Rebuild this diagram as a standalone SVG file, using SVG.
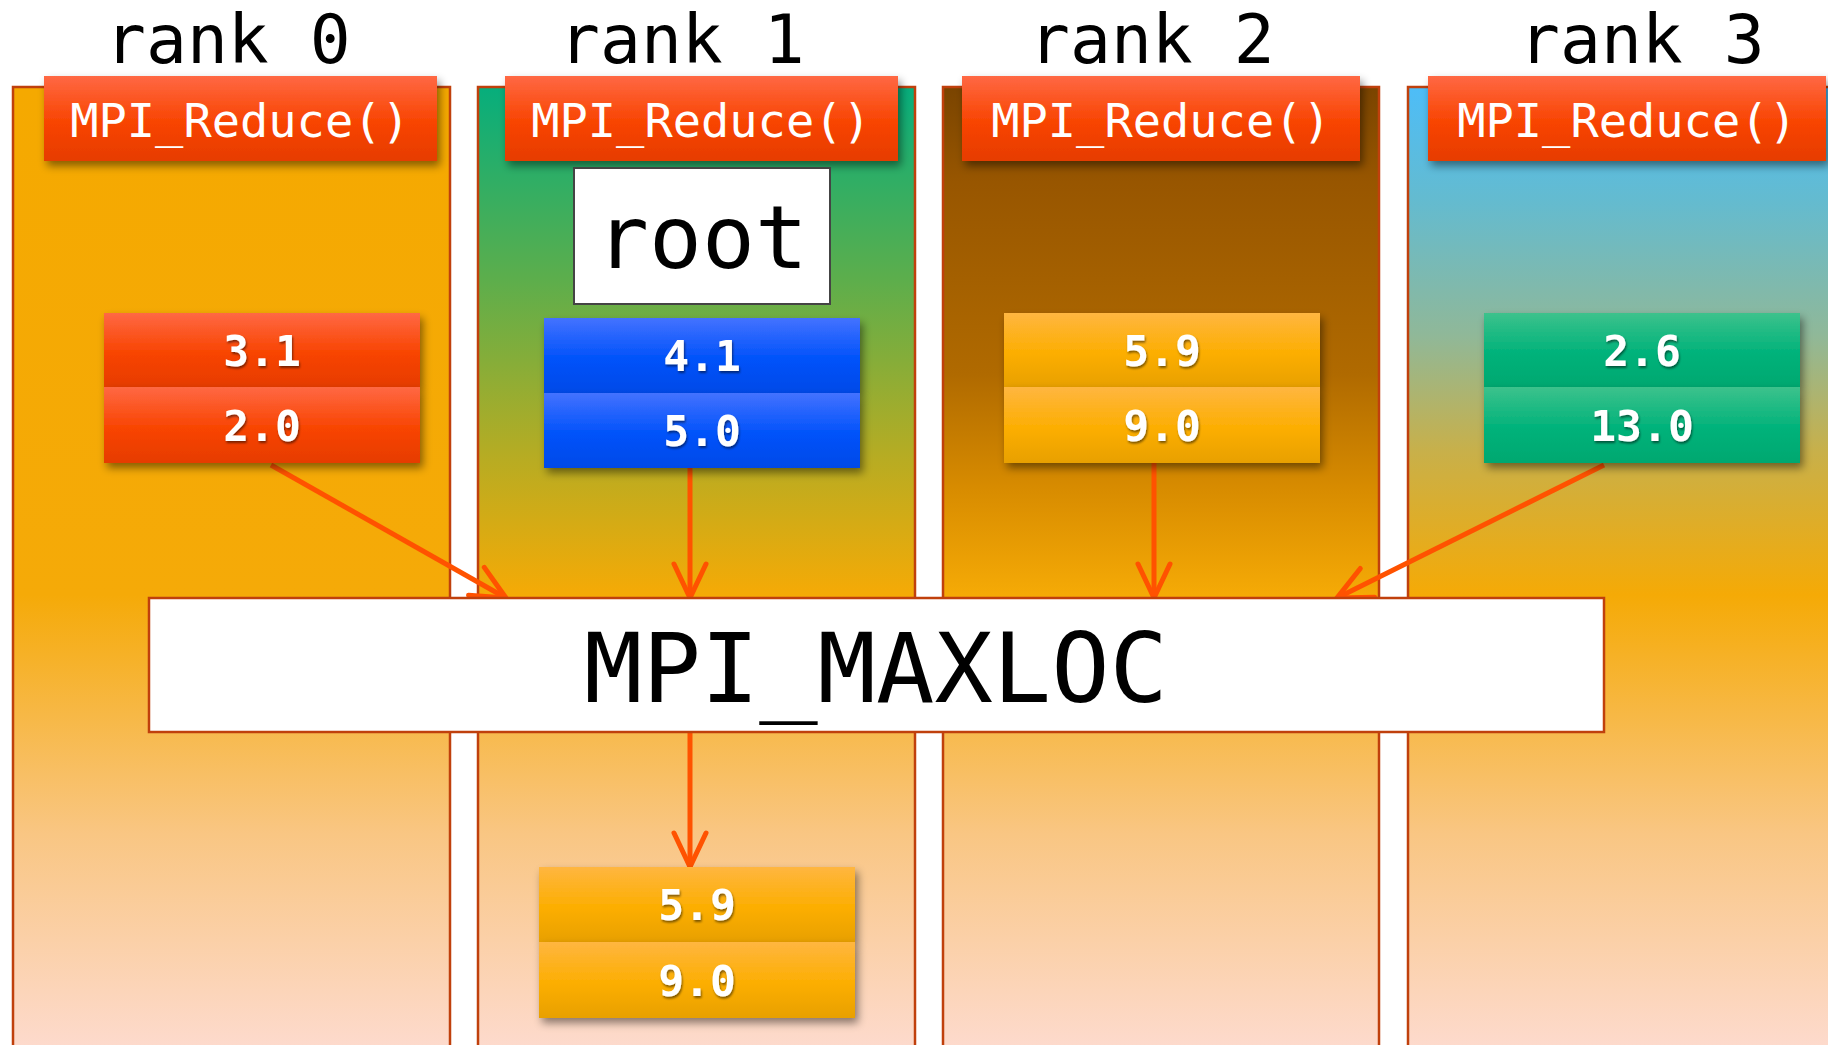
<svg xmlns="http://www.w3.org/2000/svg" width="1828" height="1045" viewBox="0 0 1828 1045">
<defs>
<style>
.lane{stroke:#C0400C;stroke-width:2.5}
.rank{font-family:"DejaVu Sans Mono","Liberation Mono",monospace;font-size:68px;fill:#000}
.hdr{filter:url(#sh)}
.hdrt{font-family:"DejaVu Sans Mono","Liberation Mono",monospace;font-size:47px;fill:#fff;text-anchor:middle}
.val{font-family:"DejaVu Sans Mono","Liberation Mono",monospace;font-size:43px;font-weight:bold;fill:#fff;text-anchor:middle;filter:url(#tsh)}
.cell{filter:url(#sh)}
.conn{stroke:#FF5200;stroke-width:5;fill:none;marker-end:url(#ah)}
</style>
<filter id="sh" x="-10%" y="-10%" width="130%" height="140%">
<feDropShadow dx="3" dy="5" stdDeviation="4" flood-color="#000" flood-opacity="0.45"/>
</filter>
<filter id="tsh" x="-20%" y="-20%" width="140%" height="150%">
<feDropShadow dx="1" dy="2" stdDeviation="1" flood-color="#000" flood-opacity="0.5"/>
</filter>
<marker id="ah" markerUnits="userSpaceOnUse" markerWidth="50" markerHeight="50" refX="40" refY="25" orient="auto" viewBox="0 0 50 50">
<path d="M6,9 L40,25 L6,41" fill="none" stroke="#FF5200" stroke-width="5" stroke-linecap="round" stroke-linejoin="miter"/>
</marker>
<linearGradient id="g0" gradientUnits="userSpaceOnUse" x1="0" y1="87" x2="0" y2="1045">
<stop offset="0" stop-color="#F5A900"/><stop offset="0.53" stop-color="#F5AA08"/><stop offset="0.78" stop-color="#F9C683"/><stop offset="1" stop-color="#FDDACC"/>
</linearGradient>
<linearGradient id="g1" gradientUnits="userSpaceOnUse" x1="0" y1="87" x2="0" y2="1045">
<stop offset="0" stop-color="#06AE7C"/><stop offset="0.2" stop-color="#5CAE4C"/><stop offset="0.38" stop-color="#B4AC24"/><stop offset="0.53" stop-color="#F5AA06"/><stop offset="0.78" stop-color="#F9C683"/><stop offset="1" stop-color="#FDDACC"/>
</linearGradient>
<linearGradient id="g2" gradientUnits="userSpaceOnUse" x1="0" y1="87" x2="0" y2="1045">
<stop offset="0" stop-color="#7A4400"/><stop offset="0.1" stop-color="#985600"/><stop offset="0.3" stop-color="#B06A00"/><stop offset="0.42" stop-color="#D88C00"/><stop offset="0.53" stop-color="#F5AA06"/><stop offset="0.78" stop-color="#F9C683"/><stop offset="1" stop-color="#FDDACC"/>
</linearGradient>
<linearGradient id="g3" gradientUnits="userSpaceOnUse" x1="0" y1="87" x2="0" y2="1045">
<stop offset="0" stop-color="#4DBDF8"/><stop offset="0.12" stop-color="#64BBCF"/><stop offset="0.26" stop-color="#90B898"/><stop offset="0.38" stop-color="#C8B04A"/><stop offset="0.53" stop-color="#F5AA06"/><stop offset="0.78" stop-color="#F9C683"/><stop offset="1" stop-color="#FDDACC"/>
</linearGradient>
<linearGradient id="red" x1="0" y1="0" x2="0" y2="1">
<stop offset="0" stop-color="#FF6844"/><stop offset="0.55" stop-color="#F84400"/><stop offset="1" stop-color="#E63C00"/>
</linearGradient>
<linearGradient id="blue" x1="0" y1="0" x2="0" y2="1">
<stop offset="0" stop-color="#4472FF"/><stop offset="0.55" stop-color="#0052FA"/><stop offset="1" stop-color="#004AE8"/>
</linearGradient>
<linearGradient id="orange" x1="0" y1="0" x2="0" y2="1">
<stop offset="0" stop-color="#FFB640"/><stop offset="0.55" stop-color="#FCAE00"/><stop offset="1" stop-color="#E8A000"/>
</linearGradient>
<linearGradient id="green" x1="0" y1="0" x2="0" y2="1">
<stop offset="0" stop-color="#3CC28C"/><stop offset="0.55" stop-color="#00B27A"/><stop offset="1" stop-color="#00A870"/>
</linearGradient>
</defs>
<rect x="0" y="0" width="1828" height="1045" fill="#fff"/>
<g id="lanes">
<rect class="lane" x="13" y="87" width="437" height="975" fill="url(#g0)"/>
<rect class="lane" x="478" y="87" width="437" height="975" fill="url(#g1)"/>
<rect class="lane" x="943" y="87" width="436" height="975" fill="url(#g2)"/>
<rect class="lane" x="1408" y="87" width="440" height="975" fill="url(#g3)"/>
</g>
<g id="connectors">
<line class="conn" x1="271" y1="465" x2="506" y2="598"/>
<line class="conn" x1="690" y1="468" x2="690" y2="598"/>
<line class="conn" x1="1154" y1="463" x2="1154" y2="598"/>
<line class="conn" x1="1604" y1="465" x2="1337" y2="598"/>
<line class="conn" x1="690" y1="732" x2="690" y2="867"/>
</g>
<g id="rank0">
<text class="rank" x="105" y="63">rank 0</text>
<rect class="hdr" x="44" y="76" width="393" height="85" fill="url(#red)"/>
<text class="hdrt" x="240" y="137">MPI_Reduce()</text>
<rect class="cell" x="104" y="313" width="316" height="74" fill="url(#red)"/>
<rect class="cell" x="104" y="387" width="316" height="76" fill="url(#red)"/>
<text class="val" x="262" y="366">3.1</text>
<text class="val" x="262" y="441">2.0</text>
</g>
<g id="rank1">
<text class="rank" x="559" y="63">rank 1</text>
<rect class="hdr" x="505" y="76" width="393" height="85" fill="url(#red)"/>
<text class="hdrt" x="701" y="137">MPI_Reduce()</text>
<rect class="cell" x="544" y="318" width="316" height="75" fill="url(#blue)"/>
<rect class="cell" x="544" y="393" width="316" height="75" fill="url(#blue)"/>
<text class="val" x="702" y="371">4.1</text>
<text class="val" x="702" y="446">5.0</text>
</g>
<g id="root">
<rect x="574" y="168" width="256" height="136" fill="#fff" stroke="#444" stroke-width="2"/>
<text x="702" y="268" font-family="DejaVu Sans Mono, Liberation Mono, monospace" font-size="88" text-anchor="middle" fill="#000">root</text>
</g>
<g id="rank2">
<text class="rank" x="1029" y="63">rank 2</text>
<rect class="hdr" x="962" y="76" width="398" height="85" fill="url(#red)"/>
<text class="hdrt" x="1161" y="137">MPI_Reduce()</text>
<rect class="cell" x="1004" y="313" width="316" height="74" fill="url(#orange)"/>
<rect class="cell" x="1004" y="387" width="316" height="76" fill="url(#orange)"/>
<text class="val" x="1162" y="366">5.9</text>
<text class="val" x="1162" y="441">9.0</text>
</g>
<g id="rank3">
<text class="rank" x="1519" y="63">rank 3</text>
<rect class="hdr" x="1428" y="76" width="398" height="85" fill="url(#red)"/>
<text class="hdrt" x="1627" y="137">MPI_Reduce()</text>
<rect class="cell" x="1484" y="313" width="316" height="74" fill="url(#green)"/>
<rect class="cell" x="1484" y="387" width="316" height="76" fill="url(#green)"/>
<text class="val" x="1642" y="366">2.6</text>
<text class="val" x="1642" y="441">13.0</text>
</g>
<g id="maxloc">
<rect x="149" y="598" width="1455" height="134" fill="#fff" stroke="#C0400C" stroke-width="2.5"/>
<text x="876" y="702" font-family="DejaVu Sans Mono, Liberation Mono, monospace" font-size="97" text-anchor="middle" fill="#000">MPI_MAXLOC</text>
</g>
<g id="result">
<rect class="cell" x="539" y="867" width="316" height="75" fill="url(#orange)"/>
<rect class="cell" x="539" y="942" width="316" height="76" fill="url(#orange)"/>
<text class="val" x="697" y="920">5.9</text>
<text class="val" x="697" y="996">9.0</text>
</g>
</svg>
